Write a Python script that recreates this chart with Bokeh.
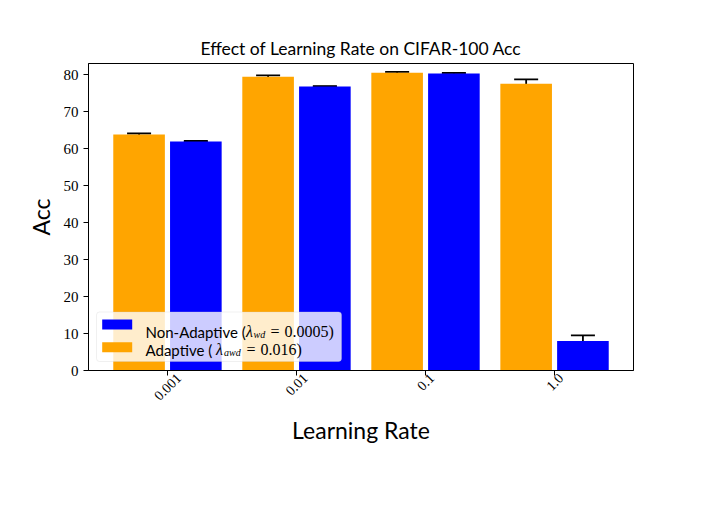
import numpy as np
from bokeh.plotting import figure
from bokeh.models import (ColumnDataSource, Whisker, TeeHead, FixedTicker,
                          BoxAnnotation, Label, Range1d, LinearAxis)
from bokeh.embed import file_html
from bokeh.resources import INLINE

# ---- data ----
lr_labels = ["0.001", "0.01", "0.1", "1.0"]
nonadaptive_acc = [61.9, 76.8, 80.3, 8.0]
nonadaptive_err = [0.15, 0.05, 0.15, 1.5]
adaptive_acc = [63.8, 79.4, 80.5, 77.5]
adaptive_err = [0.3, 0.4, 0.25, 1.2]

title_text = "Effect of Learning Rate on CIFAR-100 Acc"
x_label = "Learning Rate"
y_label = "Acc"
y_ticks = [0, 10, 20, 30, 40, 50, 60, 70, 80]

ORANGE = "#FFA500"
BLUE = "#0000FF"
SANS = "Lato"
SERIF = "Liberation Serif"

idx = np.arange(len(lr_labels))
offset = 0.22
bar_w = 0.4

FW, FH = 545, 307
X0, X1 = -0.612, 3.612
PX_PER_X = FW / (X1 - X0)
p = figure(frame_width=FW, frame_height=FH,
           min_border_left=88, min_border_right=55,
           min_border_top=63, min_border_bottom=142,
           output_backend="svg", toolbar_location=None,
           x_range=Range1d(X0, X1), y_range=Range1d(0, 83))

src_a = ColumnDataSource(dict(x=idx - offset, top=adaptive_acc,
                              upper=np.array(adaptive_acc) + np.array(adaptive_err),
                              lower=np.array(adaptive_acc) - np.array(adaptive_err)))
src_n = ColumnDataSource(dict(x=idx + offset, top=nonadaptive_acc,
                              upper=np.array(nonadaptive_acc) + np.array(nonadaptive_err),
                              lower=np.array(nonadaptive_acc) - np.array(nonadaptive_err)))

p.vbar(x="x", top="top", width=bar_w, source=src_a, fill_color=ORANGE, line_color=None)
p.vbar(x="x", top="top", width=bar_w, source=src_n, fill_color=BLUE, line_color=None)

for src in (src_a, src_n):
    w = Whisker(base="x", upper="upper", lower="lower", source=src,
                line_color="black", line_width=1.8,
                upper_head=TeeHead(size=24, line_color="black", line_width=1.8),
                lower_head=TeeHead(size=24, line_color="black", line_width=1.8))
    p.add_layout(w)

# ---- title ----
p.title.text = title_text
p.title.text_font = SANS
p.title.text_font_style = "normal"
p.title.text_font_size = "17.5px"
p.title.align = "center"
p.title.text_color = "black"
p.title.standoff = 9

# ---- axes ----
p.xgrid.visible = False
p.ygrid.visible = False
p.outline_line_color = "black"
p.outline_line_alpha = 1
p.outline_line_width = 1

# axis A (next to the frame): tick marks only
p.xaxis.ticker = FixedTicker(ticks=list(idx))
p.xaxis.major_label_overrides = {int(i): "" for i in idx}
p.xaxis.major_label_text_font_size = "1px"
p.xaxis.major_label_standoff = 0
p.yaxis.ticker = FixedTicker(ticks=y_ticks)

for ax in (p.xaxis[0], p.yaxis[0]):
    ax.axis_line_color = "black"
    ax.major_tick_line_color = "black"
    ax.major_tick_out = 5
    ax.major_tick_in = 0
    ax.minor_tick_line_color = None
    ax.major_label_text_color = "black"

p.yaxis.major_label_text_font = SERIF
p.yaxis.major_label_text_font_size = "15px"
p.yaxis.major_label_standoff = 5
p.yaxis.axis_label = y_label
p.yaxis.axis_label_text_font = SANS
p.yaxis.axis_label_text_font_style = "normal"
p.yaxis.axis_label_text_font_size = "23px"
p.yaxis.axis_label_text_color = "black"
p.yaxis.axis_label_standoff = 6

# axis B: rotated labels, shifted so each rotated label is centred on its tick
XT_SIZE = 14
def label_len_px(s):
    return sum(0.5 if c.isdigit() else 0.25 for c in s) * XT_SIZE

shifted = [float(i) + 0.354 * label_len_px(lab) / PX_PER_X for i, lab in zip(idx, lr_labels)]
axB = LinearAxis(ticker=FixedTicker(ticks=shifted),
                 major_label_overrides={t: lab for t, lab in zip(shifted, lr_labels)},
                 major_label_orientation=np.pi / 4,
                 axis_line_color=None, major_tick_line_color=None,
                 minor_tick_line_color=None, major_tick_out=0, major_tick_in=0,
                 major_label_standoff=0,
                 major_label_text_font=SERIF, major_label_text_font_size=f"{XT_SIZE}px",
                 major_label_text_color="black",
                 axis_label=x_label, axis_label_text_font=SANS,
                 axis_label_text_font_style="normal", axis_label_text_font_size="23px",
                 axis_label_text_color="black", axis_label_standoff=8)
p.add_layout(axB, "below")

# ---- custom legend (layout helpers, in data units) ----
def px_x(px):
    return (px - 88) / PX_PER_X + X0

def px_y(py):
    return (370 - py) / (FH / 83.0)

p.add_layout(BoxAnnotation(left=px_x(96), right=px_x(341), bottom=px_y(361), top=px_y(311.5),
                           fill_color="white", fill_alpha=0.8,
                           line_color="#cccccc", line_width=1, border_radius=3))
p.add_layout(BoxAnnotation(left=px_x(101.7), right=px_x(131.7), bottom=px_y(329), top=px_y(319),
                           fill_color=BLUE, fill_alpha=1, line_color=None))
p.add_layout(BoxAnnotation(left=px_x(101.7), right=px_x(131.7), bottom=px_y(351.7), top=px_y(341.7),
                           fill_color=ORANGE, fill_alpha=1, line_color=None))

def piece(txt, px, py, font, size, style="normal"):
    p.add_layout(Label(x=px_x(px), y=px_y(py), text=txt, text_font=font,
                       text_font_size=size, text_font_style=style,
                       text_align="left", text_baseline="alphabetic",
                       text_color="black"))

# row 1: Non-Adaptive (λ_wd = 0.0005)
piece("Non-Adaptive (", 145, 331, SANS, "15px")
piece("λ", 245.5, 331, SERIF, "16px", "italic")
piece("wd", 253, 334, SERIF, "10px", "italic")
piece("=", 270, 331, SERIF, "16px")
piece("0.0005)", 284, 331, SERIF, "16px")
# row 2: Adaptive (λ_awd = 0.016)
piece("Adaptive (", 145, 349, SANS, "15px")
piece("λ", 215.5, 349, SERIF, "16px", "italic")
piece("awd", 223.5, 352, SERIF, "10px", "italic")
piece("=", 246, 349, SERIF, "16px")
piece("0.016)", 260, 349, SERIF, "16px")

open("out.html", "w").write(file_html(p, INLINE))
